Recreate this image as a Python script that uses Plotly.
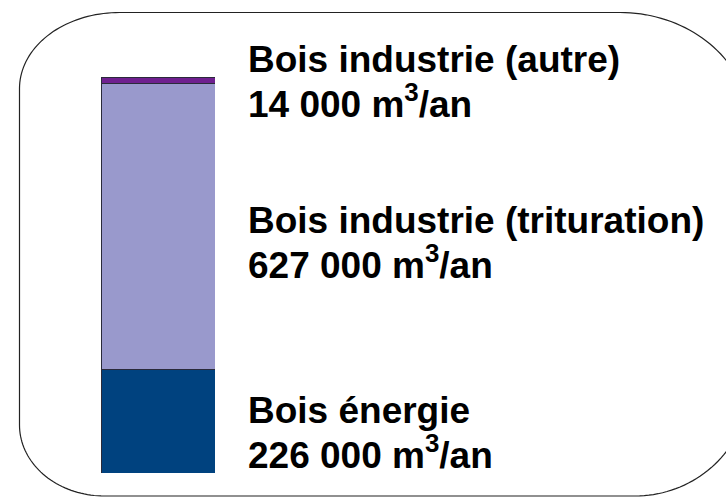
import numpy as np
import plotly.graph_objects as go

# ---- data ----
categories = ["Bois énergie", "Bois industrie (trituration)", "Bois industrie (autre)"]
volumes = [226000, 627000, 14000]          # m3/an
colors = ["#00427F", "#9999CC", "#6F1F8F"]

FW, FH = 726, 497
def px(x):
    return x / FW
def py(y):
    return 1 - y / FH

total = sum(volumes)
fig = go.Figure()
for cat, v, c in zip(categories, volumes, colors):
    fig.add_trace(go.Bar(x=[0], y=[v], name=cat, marker=dict(color=c, line=dict(color="#2a2a3a", width=1)),
                         width=1, hoverinfo="skip"))

def fmt(v):
    return f"{v:,}".replace(",", " ")

FONT = dict(family="Liberation Sans, Arial", size=37, color="black", weight="bold")
label_y = {0: (410, 452), 1: (220, 262), 2: (59, 101)}
annotations = []
for i, (cat, v) in enumerate(zip(categories, volumes)):
    y1, y2 = label_y[i]
    annotations.append(dict(x=px(246), y=py(y1), xref="paper", yref="paper", xanchor="left", yanchor="middle",
                            text=cat, showarrow=False, font=FONT))
    annotations.append(dict(x=px(246), y=py(y2), xref="paper", yref="paper", xanchor="left", yanchor="middle",
                            text=f"{fmt(v)} m<sup>3</sup>/an", showarrow=False, font=FONT))

# rounded frame outline (open path: its right side lies outside the window)
L, T, R, B = 19.5, 12.5, 750, 496
tl = (100, 76); bl = (85, 71); tr = (130, 113); br = (115, 113)
t = np.linspace(0, np.pi / 2, 40)
pts = []
# top-right corner, from the window edge up to the top line (drawn right -> left)
cx, cy = R - tr[0], T + tr[1]
seg = [(cx + tr[0] * np.sin(a), cy - tr[1] * np.cos(a)) for a in t[::-1]]
pts += [p for p in seg if p[0] <= 728]
# top-left corner
cx, cy = L + tl[0], T + tl[1]
pts += [(cx - tl[0] * np.sin(a), cy - tl[1] * np.cos(a)) for a in t]
# bottom-left corner
cx, cy = L + bl[0], B - bl[1]
pts += [(cx - bl[0] * np.sin(a), cy + bl[1] * np.cos(a)) for a in t[::-1]]
# bottom-right corner, up to the window edge
cx, cy = R - br[0], B - br[1]
seg = [(cx + br[0] * np.sin(a), cy + br[1] * np.cos(a)) for a in t]
pts += [p for p in seg if p[0] <= 728]

path = "M " + " L ".join(f"{px(x):.5f},{py(y):.5f}" for x, y in pts)

fig.update_layout(
    barmode="stack",
    width=FW, height=FH,
    margin=dict(l=0, r=0, t=0, b=0),
    paper_bgcolor="white", plot_bgcolor="rgba(0,0,0,0)",
    showlegend=False,
    xaxis=dict(domain=[px(101), px(215)], range=[-0.5, 0.5], visible=False, fixedrange=True),
    yaxis=dict(domain=[py(473), py(77)], range=[0, total], visible=False, fixedrange=True),
    shapes=[dict(type="path", xref="paper", yref="paper", path=path,
                 line=dict(color="#222222", width=1.2), fillcolor="rgba(0,0,0,0)", layer="below")],
    annotations=annotations,
)

fig.write_html(
    "out.html",
    config={"displayModeBar": False},
    post_script="document.documentElement.style.overflow='hidden';"
                "document.body.style.margin='0px';document.body.style.overflow='hidden';",
)
